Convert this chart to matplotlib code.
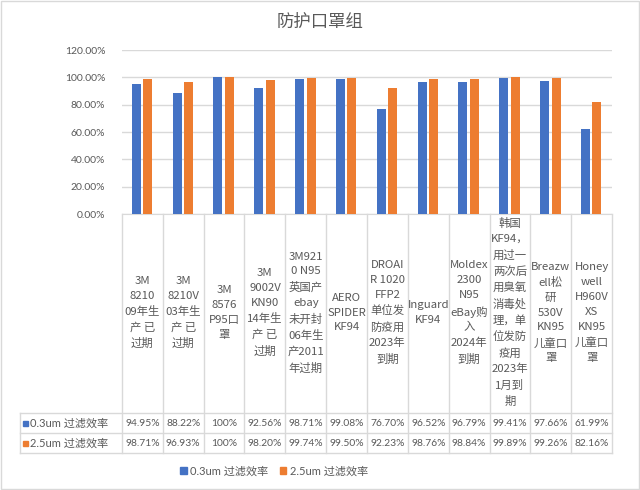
import matplotlib
matplotlib.use("Agg")
import matplotlib.pyplot as plt
from matplotlib.patches import Rectangle
from matplotlib.lines import Line2D
from matplotlib.transforms import blended_transform_factory

plt.rcParams['font.family'] = ['Lato', 'Noto Sans CJK SC', 'DejaVu Sans']

title = "防护口罩组"
categories = [
    "3M\n8210\n09年生\n产 已\n过期",
    "3M\n8210V\n03年生\n产 已\n过期",
    "3M\n8576\nP95口\n罩",
    "3M\n9002V\nKN90\n14年生\n产 已\n过期",
    "3M921\n0 N95\n英国产\nebay\n未开封\n06年生\n产2011\n年过期",
    "AERO\nSPIDER\nKF94",
    "DROAI\nR 1020\nFFP2\n单位发\n防疫用\n2023年\n到期",
    "Inguard\nKF94",
    "Moldex\n2300\nN95\neBay购\n入\n2024年\n到期",
    "韩国\nKF94，\n用过一\n两次后\n用臭氧\n消毒处\n理，单\n位发防\n疫用\n2023年\n1月到\n期",
    "Breazw\nell松\n研\n530V\nKN95\n儿童口\n罩",
    "Honey\nwell\nH960V\nXS\nKN95\n儿童口\n罩",
]
series_names = ["0.3um 过滤效率", "2.5um 过滤效率"]
eff_03 = [94.95, 88.22, 100, 92.56, 98.71, 99.08, 76.70, 96.52, 96.79, 99.41, 97.66, 61.99]
eff_25 = [98.71, 96.93, 100, 98.20, 99.74, 99.50, 92.23, 98.76, 98.84, 99.89, 99.26, 82.16]
yticks = [0, 20, 40, 60, 80, 100, 120]

colors = ["#4472C4", "#ED7D31"]
txt = "#595959"
grid = "#D9D9D9"

W, H = 640, 490
fig = plt.figure(figsize=(W / 100, H / 100), dpi=100)

def fx(x):
    return x / W

def fy(y):
    return 1 - y / H

x0, x1 = 122, 612
y_top, y_zero = 50, 214
ax = fig.add_axes([fx(x0), fy(y_zero), fx(x1) - fx(x0), fy(y_top) - fy(y_zero)])
n = len(categories)
idx = list(range(n))
bw = 0.22
ax.bar([i - 0.15 for i in idx], eff_03, width=bw, color=colors[0], zorder=3)
ax.bar([i + 0.13 for i in idx], eff_25, width=bw, color=colors[1], zorder=3)
ax.set_xlim(-0.5, n - 0.5)
ax.set_ylim(0, 120)
ax.set_yticks(yticks)
ax.set_yticklabels([f"{v:.2f}%" for v in yticks], color=txt, fontsize=7.5)
ax.tick_params(axis='y', length=0, pad=12)
ax.set_xticks([])
ax.grid(axis='y', color=grid, lw=1, zorder=0)
for s in ['top', 'right', 'left']:
    ax.spines[s].set_visible(False)
ax.spines['bottom'].set_color(grid)

fig.text(0.5, fy(22), title, ha='center', va='center', fontsize=12.5, color=txt)

# data table
tr = blended_transform_factory(ax.transData, fig.transFigure)
y_hdr_bot, y_r1, y_r2 = 413, 433, 453
for b in range(n + 1):
    fig.add_artist(Line2D([b - 0.5, b - 0.5], [fy(y_zero), fy(y_r2)], transform=tr, color=grid, lw=1))
for yy in (y_hdr_bot, y_r1, y_r2):
    fig.add_artist(Line2D([fx(20), fx(x1)], [fy(yy), fy(yy)], transform=fig.transFigure, color=grid, lw=1))
fig.add_artist(Line2D([fx(20), fx(20)], [fy(y_hdr_bot), fy(y_r2)], transform=fig.transFigure, color=grid, lw=1))

for i, c in enumerate(categories):
    fig.text(i, fy((y_zero + y_hdr_bot) / 2 - 1), c, transform=tr, ha='center', va='center',
             fontsize=8.2, color=txt, linespacing=1.6,
             family=['Noto Sans CJK SC', 'DejaVu Sans'])

def fmt(v):
    return "100%" if v == 100 else f"{v:.2f}%"

for r, (vals, name, col) in enumerate(zip([eff_03, eff_25], series_names, colors)):
    yc = fy((y_hdr_bot + y_r1) / 2 + r * 20)
    fig.add_artist(Rectangle((fx(23), yc - 2.5 / H), 5 / W, 5 / H, transform=fig.transFigure,
                             color=col))
    fig.text(fx(30), yc, name, ha='left', va='center', fontsize=8, color=txt)
    for i, v in enumerate(vals):
        fig.text(i, yc, fmt(v), transform=tr, ha='center', va='center', fontsize=7.4, color=txt)

# legend
handles = [Rectangle((0, 0), 1, 1, color=c) for c in colors]
fig.legend(handles, series_names, loc='center', bbox_to_anchor=(fx(274), fy(471)), ncol=2,
           frameon=False, fontsize=8, labelcolor=txt, handlelength=0.6, handleheight=0.6,
           handletextpad=0.3, columnspacing=1.0)

fig.add_artist(Rectangle((0.002, 0.002), 0.996, 0.996, transform=fig.transFigure,
                         fill=False, edgecolor=grid, lw=1))

fig.savefig("out.png", dpi=100, facecolor='white')
